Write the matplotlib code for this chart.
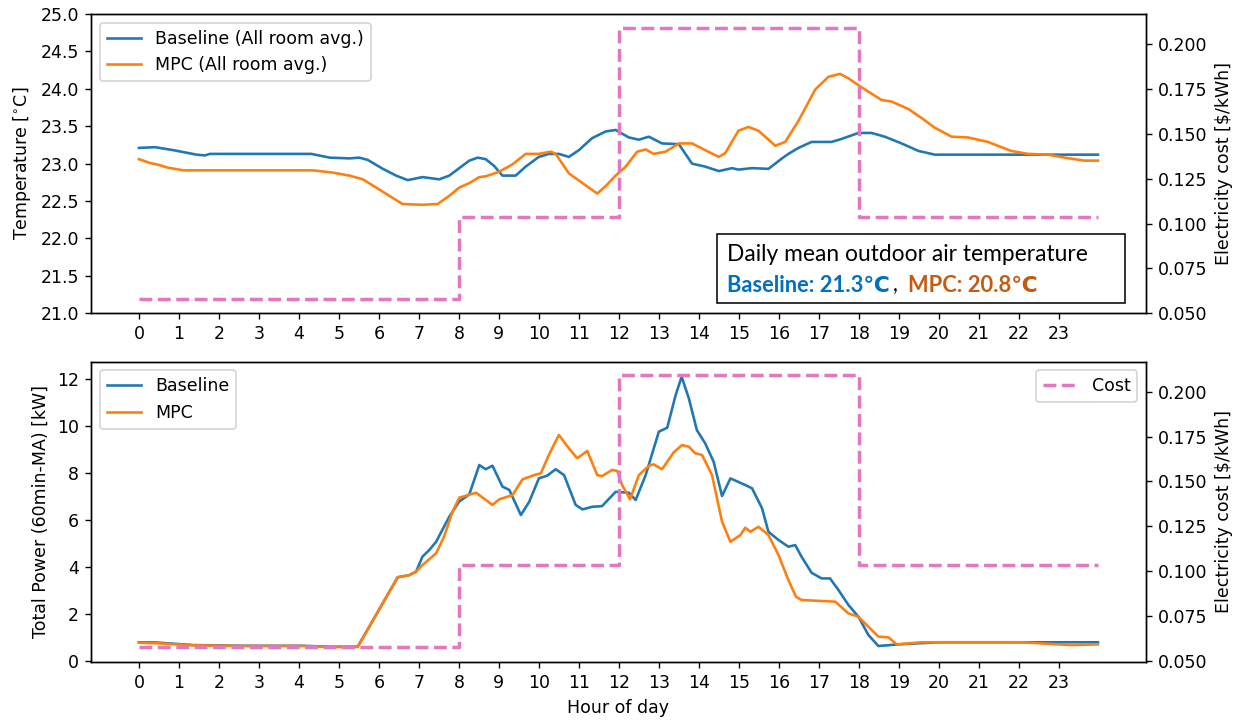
import matplotlib
matplotlib.use("Agg")
import matplotlib.pyplot as plt
from matplotlib.patches import Rectangle

# ---------------- data ----------------
hour_ticks = list(range(24))

# Indoor temperature (all room average)
base_T_h = [0, 0.4, 0.86, 1.44, 1.65, 1.77, 4.31, 4.77, 5.26, 5.51, 5.72, 6.1, 6.43, 6.72, 7.09,
            7.51, 7.76, 8.01, 8.26, 8.47, 8.67, 8.88, 9.09, 9.42, 9.67, 10.0, 10.25, 10.5, 10.75,
            11.0, 11.33, 11.67, 11.92, 12.25, 12.5, 12.75, 13.08, 13.5, 13.83, 14.16, 14.5, 14.83,
            14.99, 15.33, 15.74, 16.08, 16.24, 16.49, 16.82, 17.32, 17.57, 17.99, 18.32, 18.65,
            19.07, 19.49, 19.9, 23.98]
base_T = [23.21, 23.22, 23.18, 23.12, 23.11, 23.13, 23.13, 23.08, 23.07, 23.08, 23.05, 22.93,
          22.84, 22.78, 22.82, 22.79, 22.84, 22.94, 23.04, 23.08, 23.06, 22.97, 22.84, 22.84,
          22.96, 23.09, 23.13, 23.13, 23.09, 23.18, 23.34, 23.43, 23.45, 23.35, 23.32, 23.36,
          23.27, 23.26, 23.0, 22.96, 22.90, 22.94, 22.92, 22.94, 22.93, 23.07, 23.13, 23.21,
          23.29, 23.29, 23.33, 23.41, 23.41, 23.36, 23.27, 23.17, 23.12, 23.12]

mpc_T_h = [0, 0.27, 0.52, 0.69, 1.11, 4.35, 4.85, 5.26, 5.6, 5.93, 6.26, 6.59, 7.09, 7.47, 7.76,
           8.01, 8.26, 8.51, 8.67, 9.0, 9.34, 9.67, 10.0, 10.3, 10.42, 10.75, 11.09, 11.46, 11.67,
           11.92, 12.17, 12.46, 12.67, 12.87, 13.17, 13.5, 13.83, 14.16, 14.5, 14.66, 14.99,
           15.24, 15.49, 15.91, 16.16, 16.49, 16.91, 17.24, 17.53, 17.74, 18.07, 18.57, 18.82,
           19.24, 19.57, 19.9, 20.32, 20.73, 21.23, 21.81, 22.23, 22.73, 23.15, 23.64, 23.98]
mpc_T = [23.06, 23.01, 22.98, 22.95, 22.91, 22.91, 22.88, 22.84, 22.79, 22.68, 22.57, 22.46,
         22.45, 22.46, 22.57, 22.68, 22.74, 22.82, 22.83, 22.89, 22.99, 23.13, 23.13, 23.16,
         23.13, 22.87, 22.74, 22.60, 22.70, 22.84, 22.96, 23.16, 23.19, 23.13, 23.16, 23.27,
         23.27, 23.18, 23.09, 23.14, 23.44, 23.49, 23.44, 23.24, 23.29, 23.57, 23.99, 24.16,
         24.20, 24.14, 24.02, 23.85, 23.83, 23.73, 23.61, 23.48, 23.36, 23.35, 23.29, 23.17,
         23.13, 23.12, 23.08, 23.04, 23.04]

# Total power (60-min moving average)
base_P_h = [0, 0.44, 1.36, 2.69, 4.1, 4.77, 5.47, 6.47, 6.76, 6.93, 7.09, 7.26, 7.43, 7.76, 8.01,
            8.26, 8.51, 8.67, 8.84, 9.09, 9.26, 9.55, 9.76, 10.0, 10.21, 10.42, 10.63, 10.92,
            11.09, 11.33, 11.58, 11.92, 12.25, 12.42, 12.67, 13.0, 13.21, 13.42, 13.57, 13.75,
            13.95, 14.16, 14.37, 14.58, 14.79, 15.16, 15.33, 15.58, 15.74, 15.99, 16.24, 16.41,
            16.57, 16.82, 17.07, 17.28, 17.49, 17.74, 17.99, 18.24, 18.49, 18.99, 19.99, 23.98]
base_P = [0.80, 0.79, 0.68, 0.65, 0.65, 0.61, 0.61, 3.57, 3.66, 3.81, 4.45, 4.73, 5.08, 6.15,
          6.8, 7.1, 8.35, 8.17, 8.32, 7.43, 7.29, 6.22, 6.79, 7.78, 7.90, 8.17, 7.92, 6.65, 6.46,
          6.57, 6.60, 7.21, 7.17, 6.86, 7.92, 9.77, 9.94, 11.33, 12.11, 11.19, 9.84, 9.27, 8.49,
          7.03, 7.78, 7.50, 7.36, 6.51, 5.51, 5.16, 4.87, 4.94, 4.44, 3.76, 3.52, 3.52, 3.03,
          2.39, 1.89, 1.11, 0.64, 0.71, 0.80, 0.80]

mpc_P_h = [0, 0.44, 1.36, 2.69, 4.1, 4.77, 5.47, 6.47, 6.76, 6.93, 7.09, 7.43, 7.63, 7.84, 8.01,
           8.43, 8.84, 9.01, 9.34, 9.59, 9.88, 10.05, 10.25, 10.5, 10.75, 10.96, 11.21, 11.46,
           11.58, 11.83, 11.96, 12.08, 12.28, 12.5, 12.75, 12.87, 13.08, 13.37, 13.58, 13.75,
           13.91, 14.08, 14.33, 14.58, 14.79, 15.04, 15.16, 15.29, 15.49, 15.74, 15.99, 16.24,
           16.43, 16.57, 17.41, 17.74, 17.99, 18.24, 18.49, 18.74, 18.95, 19.57, 22.06, 23.3,
           23.98]
mpc_P = [0.78, 0.76, 0.67, 0.64, 0.64, 0.60, 0.60, 3.57, 3.66, 3.81, 4.09, 4.59, 5.30, 6.36,
         6.96, 7.17, 6.65, 6.89, 7.07, 7.74, 7.92, 8.0, 8.78, 9.63, 9.06, 8.64, 8.95, 7.92, 7.88,
         8.14, 8.10, 7.50, 6.89, 7.92, 8.32, 8.38, 8.17, 8.89, 9.20, 9.13, 8.85, 8.78, 7.92,
         5.94, 5.08, 5.37, 5.68, 5.51, 5.72, 5.37, 4.52, 3.45, 2.74, 2.60, 2.53, 2.03, 1.89,
         1.46, 1.04, 1.01, 0.71, 0.80, 0.80, 0.68, 0.71]

# Time-of-use electricity cost ($/kWh)
cost_h = [0, 8, 12, 18, 23.98]
cost = [0.0578, 0.1036, 0.2091, 0.1036, 0.1036]

C_BLUE = "#1f77b4"
C_ORANGE = "#ff7f0e"
C_PINK = "#e377c2"

# ---------------- figure ----------------
W, H = 1243, 721
DPI = 125
fig = plt.figure(figsize=(W / DPI, H / DPI), dpi=DPI)

ax1 = fig.add_axes([0.0732, 0.5655, 0.8487, 0.4151])
ax2 = fig.add_axes([0.0732, 0.0825, 0.8487, 0.4161])

# ---- top: temperature ----
ax1.plot(base_T_h, base_T, color=C_BLUE, lw=1.5, label="Baseline (All room avg.)")
ax1.plot(mpc_T_h, mpc_T, color=C_ORANGE, lw=1.5, label="MPC (All room avg.)")
ax1.set_ylim(21.0, 25.0)
ax1.set_xticks(hour_ticks)
ax1.set_ylabel(r"Temperature [$^{\circ}$C]")
ax1.legend(loc="upper left")
ax1t = ax1.twinx()
ax1t.plot(cost_h, cost, color=C_PINK, lw=2, ls="--", drawstyle="steps-post")
ax1t.set_ylim(0.05, 0.2167)
ax1t.set_ylabel(r"Electricity cost [\$/kWh]")

# ---- bottom: power ----
ax2.plot(base_P_h, base_P, color=C_BLUE, lw=1.5, label="Baseline")
ax2.plot(mpc_P_h, mpc_P, color=C_ORANGE, lw=1.5, label="MPC")
ax2.set_xticks(hour_ticks)
ax2.set_ylim(-0.02, 12.76)
ax2.set_xlabel("Hour of day")
ax2.set_ylabel("Total Power (60min-MA) [kW]")
ax2.legend(loc="upper left")
ax2t = ax2.twinx()
ax2t.plot(cost_h, cost, color=C_PINK, lw=2, ls="--", drawstyle="steps-post", label="Cost")
ax2t.set_ylim(0.0499, 0.2167)
ax2t.set_ylabel(r"Electricity cost [\$/kWh]")
ax2t.legend(loc="upper right")

for a in (ax1, ax2):
    a.set_xlim(-1.2, 25.18)

# ---- annotation box (outdoor temperature) ----
def fx(px):
    return px / W

def fy(py):
    return 1 - py / H

fig.patches.append(Rectangle((fx(717), fy(303.3)), fx(1125) - fx(717), (303.3 - 234.3) / H,
                             transform=fig.transFigure, fill=False, ec="black", lw=0.9,
                             zorder=5))
fam = ["Lato", "DejaVu Sans"]
fig.text(fx(727), fy(261), "Daily mean outdoor air temperature", family=fam, fontsize=13.1,
         color="black", va="baseline", ha="left")
fig.text(fx(727), fy(291.5), "Baseline: 21.3℃", family=fam, fontsize=12.6,
         fontweight="bold", color="#0070C0", va="baseline", ha="left")
fig.text(fx(893), fy(291.5), ",", family=fam, fontsize=12.6,
         color="black", va="baseline", ha="left")
fig.text(fx(908), fy(291.5), "MPC: 20.8℃", family=fam, fontsize=12.6,
         fontweight="bold", color="#C55A11", va="baseline", ha="left")

fig.savefig("out.png", dpi=DPI)
